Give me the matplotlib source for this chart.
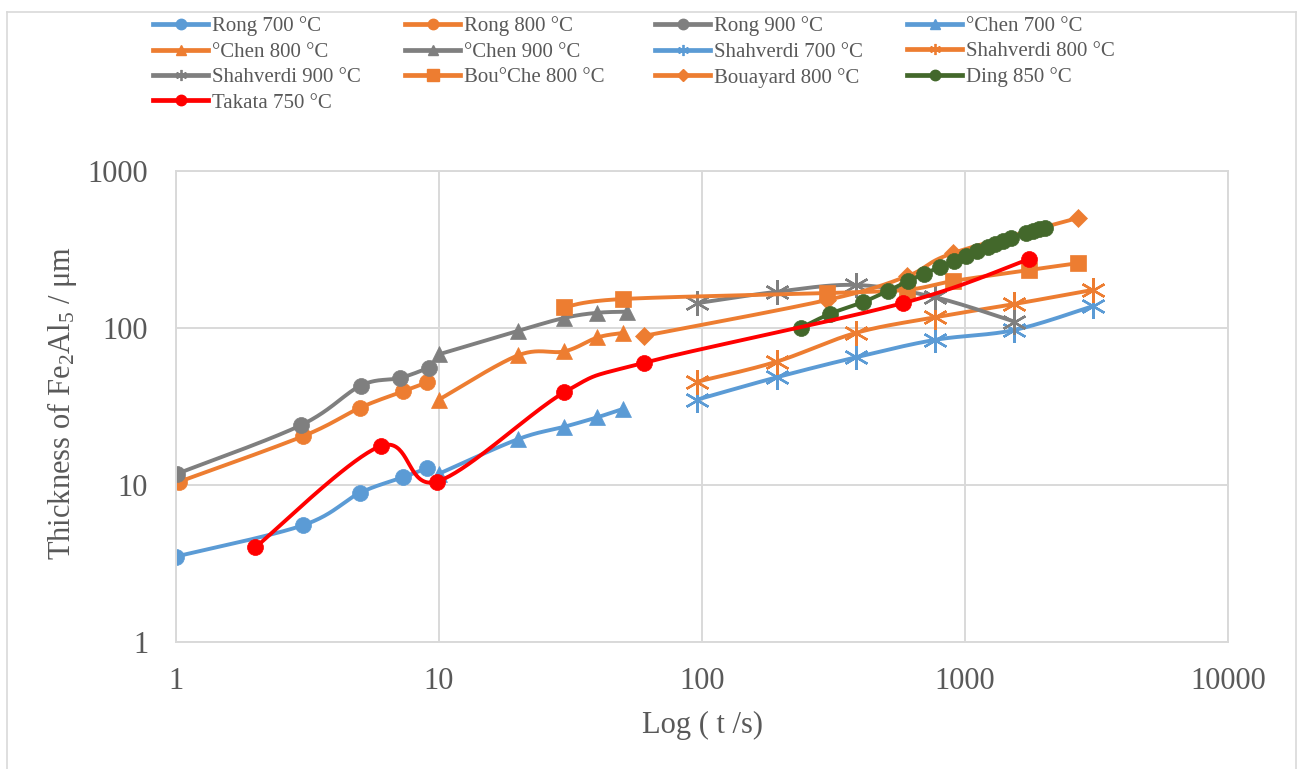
import numpy as np
import matplotlib
matplotlib.use("Agg")
import matplotlib.pyplot as plt
from matplotlib.lines import Line2D

plt.rcParams['font.family'] = ['Liberation Serif', 'DejaVu Serif']
plt.rcParams['mathtext.fontset'] = 'custom'
plt.rcParams['mathtext.rm'] = 'Liberation Serif'
plt.rcParams['mathtext.it'] = 'Liberation Serif:italic'

# ---------------- data ----------------
rong700_t = [1.0, 3.05, 5.0, 7.3, 9.0]
rong700_d = [3.5, 5.55, 8.9, 11.2, 12.8]
rong800_t = [1.03, 3.05, 5.0, 7.3, 9.0]
rong800_d = [10.5, 20.5, 31, 39.5, 45]
rong900_t = [1.01, 2.98, 5.05, 7.1, 9.2]
rong900_d = [11.8, 24, 43, 48, 56]
chen700_t = [10, 20, 30, 40, 50]
chen700_d = [11.8, 19.6, 23.5, 27, 30.5]
chen800_t = [10, 20, 30, 40, 50]
chen800_d = [35, 67, 71, 87, 93]
chen900_t = [10, 20, 30, 40, 52]
chen900_d = [68, 96, 116, 125, 127]
shah700_t = [96, 192, 384, 768, 1536, 3072]
shah700_d = [35, 48.5, 65, 84, 97, 138]
shah800_t = [96, 192, 384, 768, 1536, 3072]
shah800_d = [45.5, 61, 93, 117, 142, 175]
shah900_t = [96, 192, 384, 768, 1536]
shah900_d = [144, 170, 188, 157, 110]
bouche_t = [30, 50, 300, 600, 900, 1750, 2700]
bouche_d = [136, 153, 167, 175, 199, 234, 259]
bouayard_t = [60, 300, 600, 900, 2700]
bouayard_d = [89, 151, 213, 300, 503]
ding_t = [237, 306, 408, 508, 606, 697, 802, 906, 1007, 1109, 1222, 1297,
          1393, 1493, 1703, 1811, 1909, 2013]
ding_d = [100, 123, 146, 172, 199, 221, 245, 267, 287, 309, 328, 343,
          358, 374, 403, 415, 427, 434]
takata_t = [2, 6, 9.8, 30, 60, 580, 1750]
takata_d = [4.0, 17.7, 10.5, 39, 60, 144, 275]

x_ticks = [1, 10, 100, 1000, 10000]
y_ticks = [1, 10, 100, 1000]

BLUE, ORANGE, GRAY, GREEN, RED = '#5B9BD5', '#ED7D31', '#7F7F7F', '#43682B', '#FF0000'
ASTER = (6, 2, 0)

series = [
    ("Rong 700 °C", rong700_t, rong700_d, BLUE, 'o'),
    ("Rong 800 °C", rong800_t, rong800_d, ORANGE, 'o'),
    ("Rong 900 °C", rong900_t, rong900_d, GRAY, 'o'),
    ("°Chen 700 °C", chen700_t, chen700_d, BLUE, '^'),
    ("°Chen 800 °C", chen800_t, chen800_d, ORANGE, '^'),
    ("°Chen 900 °C", chen900_t, chen900_d, GRAY, '^'),
    ("Shahverdi 700 °C", shah700_t, shah700_d, BLUE, ASTER),
    ("Shahverdi 800 °C", shah800_t, shah800_d, ORANGE, ASTER),
    ("Shahverdi 900 °C", shah900_t, shah900_d, GRAY, ASTER),
    ("Bou°Che 800 °C", bouche_t, bouche_d, ORANGE, 's'),
    ("Bouayard 800 °C", bouayard_t, bouayard_d, ORANGE, 'D'),
    ("Ding 850 °C", ding_t, ding_d, GREEN, 'o'),
    ("Takata 750 °C", takata_t, takata_d, RED, 'o'),
]

MS = {'o': 11.5, '^': 11.5, 's': 11.0, 'D': 9.0}
LEG_MS = {'o': 7.5, '^': 7.5, 's': 8, 'D': 6.5}


def smooth(x, y, n=40):
    """Excel-like smoothed line (Catmull-Rom Bezier in log space)."""
    P = np.column_stack([np.log10(x), np.log10(y)])
    pts = []
    for i in range(len(P) - 1):
        p0 = P[i - 1] if i > 0 else P[i]
        p1, p2 = P[i], P[i + 1]
        p3 = P[i + 2] if i + 2 < len(P) else P[i + 1]
        c1 = p1 + (p2 - p0) / 6.0
        c2 = p2 - (p3 - p1) / 6.0
        t = np.linspace(0, 1, n, endpoint=False)[:, None]
        pts.append((1 - t) ** 3 * p1 + 3 * (1 - t) ** 2 * t * c1
                   + 3 * (1 - t) * t ** 2 * c2 + t ** 3 * p2)
    pts.append(P[-1:])
    pts = np.vstack(pts)
    return 10 ** pts[:, 0], 10 ** pts[:, 1], [i * n for i in range(len(P))]


fig = plt.figure(figsize=(12.97, 7.69), dpi=100)
W, H = 1297.0, 769.0
ax = fig.add_axes([176 / W, 1 - 642 / H, (1228 - 176) / W, (642 - 171) / H])

handles = []
for label, t, d, c, m in series:
    xs, ys, every = smooth(t, d)
    if m == ASTER:
        ax.plot(xs, ys, color=c, lw=2.8, marker=m, markevery=every, ms=18,
                mew=1.7, mec=c, mfc=c, solid_capstyle='round')
        h = Line2D([], [], color=c, lw=3.4, marker=m, ms=8, mew=1.3, mec=c)
    else:
        ax.plot(xs, ys, color=c, lw=2.8, marker=m, markevery=every, ms=MS[m],
                mec=c, mfc=c, mew=0.5, solid_capstyle='round')
        h = Line2D([], [], color=c, lw=3.4, marker=m, ms=LEG_MS[m], mec=c, mfc=c)
    handles.append((h, label))

ax.set_xscale('log')
ax.set_yscale('log')
ax.set_xlim(1, 10000)
ax.set_ylim(1, 1000)
ax.set_xticks(x_ticks)
ax.set_xticklabels([str(v) for v in x_ticks])
ax.set_yticks(y_ticks)
ax.set_yticklabels([str(v) for v in y_ticks])
ax.minorticks_off()
ax.tick_params(axis='both', length=0, labelsize=22, labelcolor='#595959')
ax.tick_params(axis='x', pad=18)
ax.tick_params(axis='y', pad=20)
ax.grid(True, which='major', color='#D9D9D9', lw=1.4)
ax.set_axisbelow(True)
for s in ax.spines.values():
    s.set_color('#D9D9D9')
    s.set_linewidth(1.4)

fig.text(702 / W, 1 - 725 / H, "Log ( t /s)", ha='center', va='center',
         fontsize=22, color='#595959')
fig.text(62 / W, 1 - 403 / H, "Thickness of Fe$_2$Al$_5$ / μm", ha='center',
         va='center', rotation=90, fontsize=22, color='#595959')

# legend: 4 equal-width columns, row-major order as in the reference
col_x = [153, 405, 655, 907]
for ci in range(4):
    items = handles[ci::4]
    fig.legend([h for h, _ in items], [l for _, l in items],
               loc='upper left', bbox_to_anchor=(col_x[ci] / W, 1 - 16.5 / H),
               frameon=False, fontsize=15, labelcolor='#595959',
               handlelength=2.65, handletextpad=0.2, labelspacing=0.28,
               borderpad=0, borderaxespad=0)

# outer chart border (light gray)
for xx, yy in [([7, 7], [12, 769]), ([7, 1296], [12, 12]), ([1296, 1296], [12, 769])]:
    fig.add_artist(Line2D(np.array(xx) / W, 1 - np.array(yy) / H,
                          color='#D9D9D9', lw=1.2, transform=fig.transFigure))

fig.savefig('out.png', dpi=100)
